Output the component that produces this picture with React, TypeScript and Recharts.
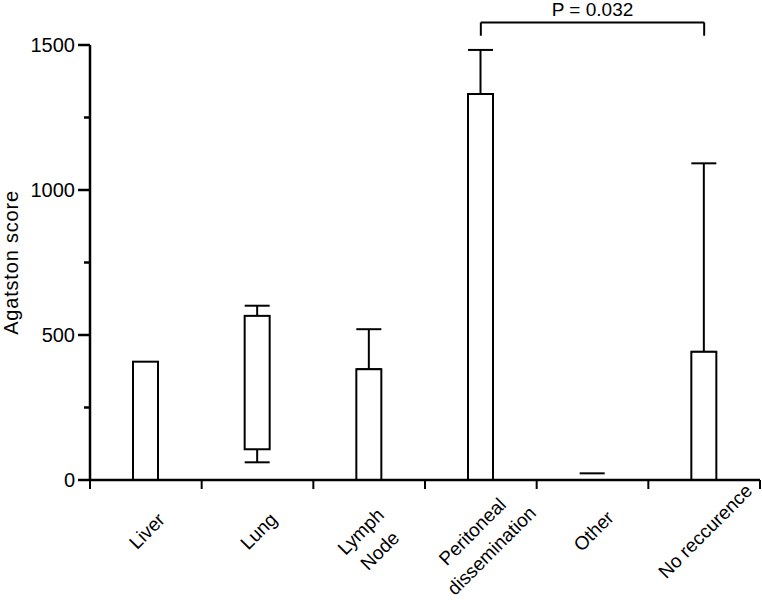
import React from 'react'
import { Bar, ComposedChart, ReferenceLine, XAxis, YAxis } from 'recharts'

// categories ("\n" = line break in the rotated tick label)
const categories = ['Liver', 'Lung', 'Lymph\nNode', 'Peritoneal\ndissemination', 'Other', 'No reccurence']

// boxes (bottom / top) and whiskers (low / high), Agatston score
const boxLow = [0, 106, 0, 0, 23, 0]
const boxHigh = [408, 566, 382, 1331, 23, 442]
const whiskerLow: (number | null)[] = [null, 61, 382, 1331, null, 442]
const whiskerHigh: (number | null)[] = [null, 601, 520, 1483, null, 1092]

const yTicks = [0, 250, 500, 750, 1000, 1250, 1500]
const yLabeled = [0, 500, 1000, 1500]
const yTitle = 'Agatston score'

// significance bracket
const pText = 'P = 0.032'
const bracketFrom = categories[3]
const bracketTo = categories[5]
const bracketTop = 1578
const bracketFoot = 1532

const W = 762
const H = 603
const MARGIN = { top: 45, right: 2, bottom: 0, left: 0 }
const Y_AXIS_W = 90
const X_AXIS_H = 123
const PLOT_W = W - MARGIN.left - MARGIN.right - Y_AXIS_W
const FONT = '"Liberation Sans", Arial, Helvetica, sans-serif'

const data = categories.map((name, i) => ({
  name,
  box: [boxLow[i], boxHigh[i]],
  whisker: whiskerLow[i] == null ? null : [whiskerLow[i], whiskerHigh[i]],
}))

function CatTick(props: any) {
  const { x, y, payload, index } = props
  const band = PLOT_W / categories.length
  const lines = String(payload.value).split('\n')
  const lh = 27
  const cy = y + (lines.length > 1 ? 61 : 51)
  return (
    <g>
      <line x1={x - band / 2} x2={x - band / 2} y1={y} y2={y + 9} stroke="#000" strokeWidth={2} />
      {index === categories.length - 1 && (
        <line x1={x + band / 2} x2={x + band / 2} y1={y} y2={y + 9} stroke="#000" strokeWidth={2} />
      )}
      <text
        transform={`translate(${x + 1},${cy}) rotate(-45)`}
        textAnchor="middle"
        fontSize={19}
        fontFamily={FONT}
        fill="#000"
      >
        {lines.map((l, i) => (
          <tspan key={i} x={0} y={(i - (lines.length - 1) / 2) * lh} dy="0.35em">
            {l}
          </tspan>
        ))}
      </text>
    </g>
  )
}

function YTick(props: any) {
  const { x, y, payload } = props
  const major = yLabeled.includes(payload.value)
  return (
    <g>
      <line x1={x - (major ? 12 : 6)} x2={x} y1={y} y2={y} stroke="#000" strokeWidth={2.5} />
      {major && (
        <text x={x - 15} y={y} dy="0.35em" textAnchor="end" fontSize={20} fontFamily={FONT} fill="#000">
          {payload.value}
        </text>
      )}
    </g>
  )
}

function YTitle(props: any) {
  const { viewBox } = props
  const cx = viewBox.x + 11
  const cy = viewBox.y + viewBox.height / 2
  return (
    <text
      transform={`translate(${cx},${cy}) rotate(-90)`}
      textAnchor="middle"
      dy="0.35em"
      fontSize={20}
      letterSpacing={0.8}
      fontFamily={FONT}
      fill="#000"
    >
      {yTitle}
    </text>
  )
}

function BoxShape(props: any) {
  const { x, width } = props
  const top = Math.min(props.y, props.y + props.height)
  const h = Math.abs(props.height)
  if (!(h >= 1)) {
    return <line x1={x} x2={x + width} y1={top} y2={top} stroke="#000" strokeWidth={2} />
  }
  return <rect x={x} y={top} width={width} height={h} fill="#fff" stroke="#000" strokeWidth={2} />
}

function WhiskerShape(props: any) {
  const { x, width, payload } = props
  if (!payload || !payload.whisker) return <g />
  const cx = x + width / 2
  const top = Math.min(props.y, props.y + props.height)
  const bot = Math.max(props.y, props.y + props.height)
  return (
    <g stroke="#000" strokeWidth={2}>
      <line x1={cx} x2={cx} y1={top} y2={bot} />
      <line x1={x} x2={x + width} y1={top} y2={top} />
      <line x1={x} x2={x + width} y1={bot} y2={bot} />
    </g>
  )
}

function App() {
  return (
    <div style={{ position: 'absolute', left: 0, top: 0, background: '#fff' }}>
      <ComposedChart width={W} height={H} data={data} margin={MARGIN} style={{ fontFamily: FONT }}>
        <XAxis
          xAxisId="box"
          dataKey="name"
          height={X_AXIS_H}
          interval={0}
          tickLine={false}
          tickSize={0}
          tickMargin={0}
          axisLine={{ stroke: '#000', strokeWidth: 2.5 }}
          tick={<CatTick />}
        />
        <XAxis xAxisId="whisker" dataKey="name" hide />
        <YAxis
          width={Y_AXIS_W}
          domain={[0, 1500]}
          allowDataOverflow
          ticks={yTicks}
          interval={0}
          tickLine={false}
          tickSize={0}
          tickMargin={0}
          axisLine={{ stroke: '#000', strokeWidth: 2.5 }}
          tick={<YTick />}
          label={<YTitle />}
        />
        <Bar xAxisId="whisker" dataKey="whisker" barSize={25} shape={<WhiskerShape />} isAnimationActive={false} />
        <Bar xAxisId="box" dataKey="box" barSize={25} shape={<BoxShape />} isAnimationActive={false} />
        <ReferenceLine
          xAxisId="box"
          ifOverflow="visible"
          stroke="#000"
          strokeWidth={2}
          segment={[{ x: bracketFrom, y: bracketTop }, { x: bracketTo, y: bracketTop }]}
          label={{ value: pText, position: 'top', offset: 6, fill: '#000', fontSize: 19, fontFamily: FONT }}
        />
        <ReferenceLine
          xAxisId="box"
          ifOverflow="visible"
          stroke="#000"
          strokeWidth={2}
          segment={[{ x: bracketFrom, y: bracketTop }, { x: bracketFrom, y: bracketFoot }]}
        />
        <ReferenceLine
          xAxisId="box"
          ifOverflow="visible"
          stroke="#000"
          strokeWidth={2}
          segment={[{ x: bracketTo, y: bracketTop }, { x: bracketTo, y: bracketFoot }]}
        />
      </ComposedChart>
    </div>
  )
}

export default App
